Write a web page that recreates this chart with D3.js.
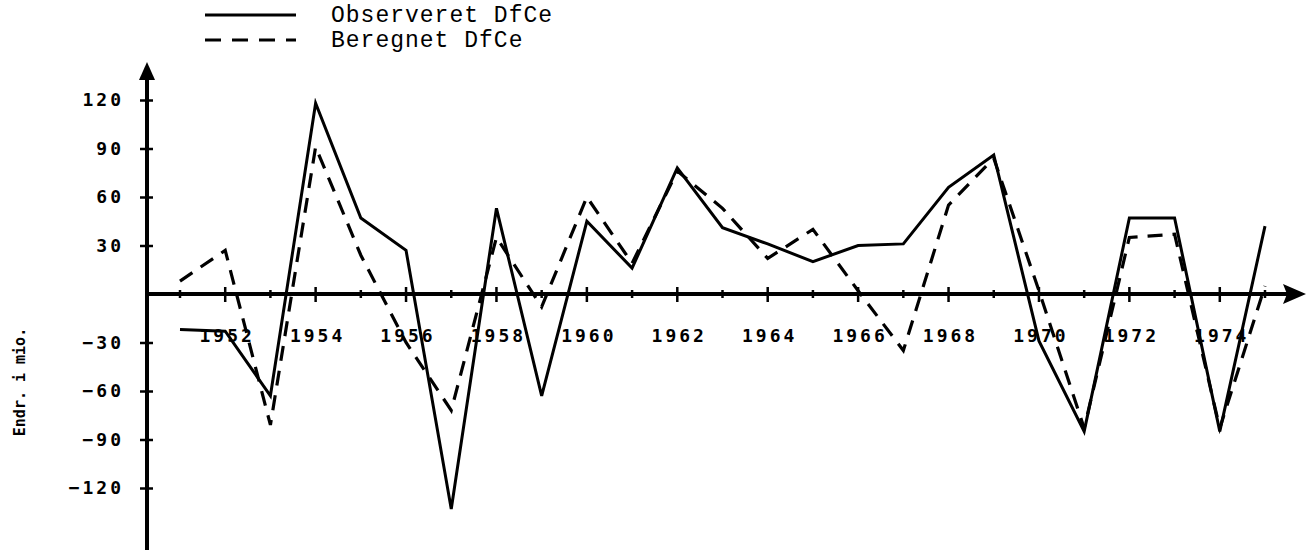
<!DOCTYPE html>
<html>
<head>
<meta charset="utf-8">
<script src="https://cdn.jsdelivr.net/npm/d3@7"></script>
<style>
  body { margin: 0; background: #fff; }
  svg { display: block; }
</style>
</head>
<body>
<div id="chart"></div>
<script>
// data
const years = d3.range(1951, 1976);
const observed = [-22, -23, -63, 118, 47, 27, -133, 53, -63, 45, 16, 78, 41, 31, 20, 30, 31, 66, 86, -29, -85, 47, 47, -85, 42];
const computed = [8, 27, -81, 91, 24, -30, -72, 35, -8, 60, 19, 76, 53, 22, 40, 2, -35, 55, 84, 2, -83, 35, 37, -83, 5];
const yTicks = [-120, -90, -60, -30, 30, 60, 90, 120];
const xLabels = [1952, 1954, 1956, 1958, 1960, 1962, 1964, 1966, 1968, 1970, 1972, 1974];
const legendNames = ["Observeret DfCe", "Beregnet DfCe"];

const width = 1314, height = 552;
const tickFont = "'DejaVu Sans Mono', monospace";

const svg = d3.select("#chart").append("svg")
    .attr("width", width)
    .attr("height", height);

const x = d3.scaleLinear().domain([1951, 1975]).range([180, 1265]);
const y = d3.scaleLinear().domain([-120, 120]).range([488, 100]);
const axisX = 147;

// y axis line + arrow
svg.append("line")
    .attr("x1", axisX).attr("x2", axisX)
    .attr("y1", 75).attr("y2", 550)
    .attr("stroke", "#000").attr("stroke-width", 4);
svg.append("path")
    .attr("d", `M${axisX},62 L${axisX - 8},80 L${axisX + 8},80 Z`)
    .attr("fill", "#000");

// x axis line + arrow
svg.append("line")
    .attr("x1", axisX).attr("x2", 1290)
    .attr("y1", y(0)).attr("y2", y(0))
    .attr("stroke", "#000").attr("stroke-width", 4);
svg.append("path")
    .attr("d", `M1306,${y(0)} L1283,${y(0) - 10} L1287,${y(0)} L1283,${y(0) + 10} Z`)
    .attr("fill", "#000");

// y ticks via axis generator
const yAxis = svg.append("g")
    .attr("transform", `translate(${axisX},0)`)
    .call(d3.axisLeft(y).tickValues(yTicks).tickSize(7).tickPadding(16));
yAxis.select(".domain").remove();
yAxis.selectAll(".tick line")
    .attr("x1", 6)
    .attr("stroke-width", 2.5);
yAxis.selectAll(".tick text")
    .attr("font-family", tickFont)
    .attr("font-weight", "bold")
    .attr("font-size", 18)
    .attr("letter-spacing", 3);

// x ticks, every year, longer on even years
svg.append("g").selectAll("line")
    .data(years)
    .join("line")
    .attr("x1", d => x(d)).attr("x2", d => x(d))
    .attr("y1", d => y(0) - (d % 2 === 0 ? 7 : 4))
    .attr("y2", d => y(0) + (d % 2 === 0 ? 8 : 4))
    .attr("stroke", "#000").attr("stroke-width", 2.5);

svg.append("g").selectAll("text")
    .data(xLabels)
    .join("text")
    .attr("x", d => x(d) + 2)
    .attr("y", y(0) + 48)
    .attr("text-anchor", "middle")
    .attr("font-family", tickFont)
    .attr("font-weight", "bold")
    .attr("font-size", 18)
    .attr("letter-spacing", 3)
    .text(d => d);

// lines
const line = d3.line()
    .x((d, i) => x(years[i]))
    .y(d => y(d));

svg.append("path")
    .datum(computed)
    .attr("d", line)
    .attr("fill", "none")
    .attr("stroke", "#000")
    .attr("stroke-width", 3.2)
    .attr("stroke-dasharray", "15,10");

svg.append("path")
    .datum(observed)
    .attr("d", line)
    .attr("fill", "none")
    .attr("stroke", "#000")
    .attr("stroke-width", 3);

// legend
const legend = svg.append("g");
legend.append("line")
    .attr("x1", 205).attr("x2", 296)
    .attr("y1", 15).attr("y2", 15)
    .attr("stroke", "#000").attr("stroke-width", 3);
legend.append("line")
    .attr("x1", 205).attr("x2", 296)
    .attr("y1", 40).attr("y2", 40)
    .attr("stroke", "#000").attr("stroke-width", 3.2)
    .attr("stroke-dasharray", "16,11");
legend.selectAll("text")
    .data(legendNames)
    .join("text")
    .attr("x", 331)
    .attr("y", (d, i) => 22 + i * 25)
    .attr("font-family", "'Liberation Mono', 'Courier New', monospace")
    .attr("font-size", 23)
    .attr("letter-spacing", 1)
    .text(d => d);

// faded y label on the left
svg.append("text")
    .attr("transform", "translate(25,382) rotate(-90)")
    .attr("text-anchor", "middle")
    .attr("font-family", tickFont)
    .attr("font-weight", "bold")
    .attr("font-size", 15)
    .attr("fill", "#000")
    .text("Endr. i mio.");
</script>
</body>
</html>
